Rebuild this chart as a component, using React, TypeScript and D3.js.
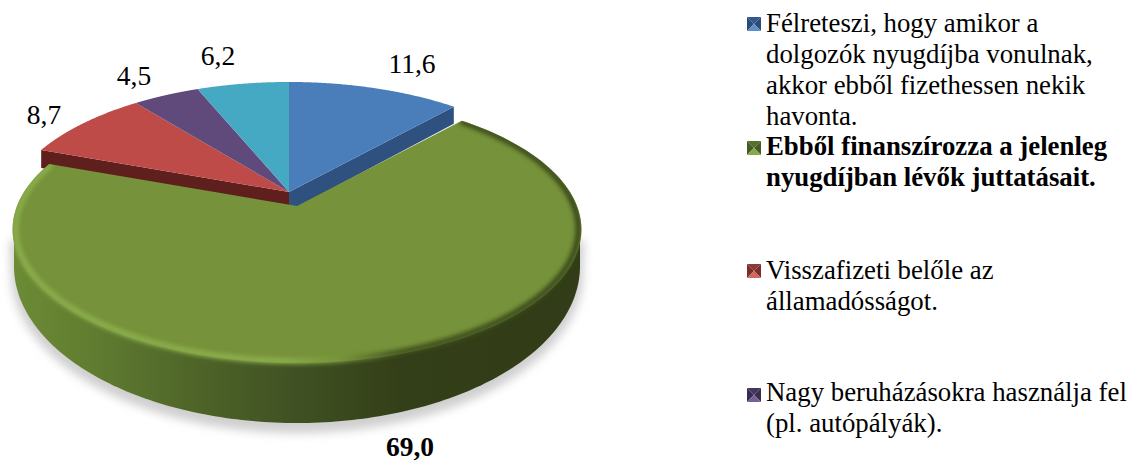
import React from "react";
import * as d3 from "d3";

const categories = ["Félreteszi", "Ebből finanszírozza", "Visszafizeti", "Nagy beruházásokra", "Egyéb"];
const values = [11.6, 69.0, 8.7, 4.5, 6.2];
const valueLabels = ["11,6", "69,0", "8,7", "4,5", "6,2"];
const topColors = ["#4a7ebb", "#76923a", "#be4b48", "#604a7b", "#46a9c4"];
const sideColors = ["#2f5180", "#4a5f22", "#5e1f1d", "#3a2c4c", "#2a6a7c"];
const legendLight = ["#5f8fc9", "#87a84c", "#cf6663", "#75609a"];
const legendMid = ["#33598c", "#55702a", "#8f3835", "#46365e"];
const legendDark = ["#2a4c78", "#475c24", "#7a2e2b", "#3a2c50"];
const legendLines = [
  ["Félreteszi, hogy amikor a", "dolgozók nyugdíjba vonulnak,", "akkor ebből fizethessen nekik", "havonta."],
  ["Ebből finanszírozza a jelenleg", "nyugdíjban lévők juttatásait."],
  ["Visszafizeti belőle az", "államadósságot."],
  ["Nagy beruházásokra használja fel", "(pl. autópályák)."],
];

const FONT = "'Liberation Serif', 'Times New Roman', serif";
const apex = { x: 289, y: 192 };
const greenOffset = { x: 8, y: 14 };
const R = 280, RY = 129.4, K = 0.176;
const labelPos = [[412, 73], [410, 456], [44, 124], [134, 85], [218, 65]];
const legendBaselines = [[32, 63, 94, 125], [155, 186], [279, 310], [401, 432]];
const markerTops = [17, 141, 264, 388];
const baseEllipse = { cx: 297, cy: 266, rx: 283, ry: 157 };

const project = (a: number, r = 1): [number, number] => {
  const x = r * Math.sin(a), y = -r * Math.cos(a), w = 1 - K * y;
  return [(R * x) / w, (RY * y) / w];
};
const arcs = d3.pie<number>().sort(null).value((d) => d)(values);
const samples = (a0: number, a1: number) => d3.range(0, 161).map((i) => a0 + ((a1 - a0) * i) / 160);
const line = d3.line<[number, number]>();
const at = (o: { x: number; y: number }, dy = 0) => ([x, y]: [number, number]): [number, number] => [o.x + x, o.y + y + dy];

const slicePath = (i: number, o: { x: number; y: number }) => {
  const { startAngle: a0, endAngle: a1 } = arcs[i];
  return line([[o.x, o.y], ...samples(a0, a1).map((a) => at(o)(project(a)))]) + "Z";
};
const blueSide = (angle: number, depth: number) =>
  line([
    [apex.x, apex.y],
    at(apex)(project(angle)),
    at(apex, depth)(project(angle)),
    [apex.x + greenOffset.x, apex.y + greenOffset.y + 1],
    [apex.x, apex.y + greenOffset.y],
  ]) + "Z";
const redSide = (angle: number, depth: number) =>
  line([
    [apex.x, apex.y],
    at(apex)(project(angle)),
    at(apex, depth)(project(angle)),
    [apex.x, apex.y + depth],
  ]) + "Z";
const basePoint = (t: number, grow = 0, dy = 0): [number, number] => [
  baseEllipse.cx + (baseEllipse.rx + grow) * Math.cos(t),
  baseEllipse.cy + dy + (baseEllipse.ry + grow) * Math.sin(t),
];
const baseHalf = samples(0, Math.PI).map((t) => basePoint(t));

export default function App() {
  const greenC = { x: apex.x + greenOffset.x, y: apex.y + greenOffset.y };
  const greenSide = line([[580, 225], ...baseHalf, [14, 225]]) + "Z";
  const shadow = line([[584, 240], ...samples(0, Math.PI).map((t) => basePoint(t, 3, 7)), [10, 240]]) + "Z";
  const rim = line(samples(arcs[1].startAngle, arcs[1].endAngle).map((a) => at(greenC)(project(a, 0.99))));
  return (
    <svg width={1135} height={461} style={{ position: "absolute", left: 0, top: 0, background: "#fff" }}>
      <defs>
        <filter id="blur" x="-10%" y="-20%" width="120%" height="140%"><feGaussianBlur stdDeviation="5" /></filter>
        <filter id="soft" x="-10%" y="-20%" width="120%" height="140%"><feGaussianBlur stdDeviation="2" /></filter>
        <linearGradient id="side" gradientUnits="userSpaceOnUse" x1="14" x2="580" y1="0" y2="0">
          <stop offset="0" stopColor="#6c8b35" />
          <stop offset="0.15" stopColor="#5f7b30" />
          <stop offset="0.33" stopColor="#4d6328" />
          <stop offset="0.5" stopColor="#3f5122" />
          <stop offset="0.68" stopColor="#333f18" />
          <stop offset="1" stopColor="#323c18" />
        </linearGradient>
        <linearGradient id="rim" gradientUnits="userSpaceOnUse" x1="12" x2="582" y1="0" y2="0">
          <stop offset="0" stopColor="#8bad4c" />
          <stop offset="0.48" stopColor="#8bad4c" />
          <stop offset="0.58" stopColor="#76923a" />
          <stop offset="0.68" stopColor="#42521f" />
          <stop offset="1" stopColor="#3a4a1c" />
        </linearGradient>
        <clipPath id="greenClip">
          <path d={slicePath(1, greenC)} />
          <path d={greenSide} />
        </clipPath>
      </defs>

      <path d={shadow} fill="#cfcfcf" filter="url(#blur)" />

      <path d={blueSide(arcs[0].endAngle, 17)} fill={sideColors[0]} />
      <path d={redSide(arcs[2].startAngle, 18)} fill={sideColors[2]} />
      {[0, 2, 3, 4].map((i) => (
        <path key={i} d={slicePath(i, apex)} fill={topColors[i]} />
      ))}

      <path d={greenSide} fill="url(#side)" />
      <path d={slicePath(1, greenC)} fill={topColors[1]} />
      <g clipPath="url(#greenClip)">
        <path d={rim || ""} fill="none" stroke="url(#rim)" strokeWidth={6} filter="url(#soft)" />
      </g>

      {valueLabels.map((t, i) => (
        <text key={i} x={labelPos[i][0]} y={labelPos[i][1]} textAnchor="middle" fontFamily={FONT} fontSize={27.5}
          fontWeight={i === 1 ? 700 : 400} fill="#000">{t}</text>
      ))}

      {legendLines.map((lines, i) => {
        const mx = 747, my = markerTops[i], s = 14, c = s / 2;
        const tri = (p: [number, number][]) => line(p) + "Z";
        return (
          <g key={i}>
            <path d={tri([[mx, my], [mx + s, my], [mx + c, my + c]])} fill={legendMid[i]} />
            <path d={tri([[mx, my], [mx, my + s], [mx + c, my + c]])} fill={legendDark[i]} />
            <path d={tri([[mx + s, my], [mx + s, my + s], [mx + c, my + c]])} fill={legendDark[i]} />
            <path d={tri([[mx, my + s], [mx + s, my + s], [mx + c, my + c]])} fill={legendLight[i]} />
            {lines.map((t, j) => (
              <text key={j} x={766} y={legendBaselines[i][j]} fontFamily={FONT} fontSize={26.8}
                fontWeight={i === 1 ? 700 : 400} fill="#000">{t}</text>
            ))}
          </g>
        );
      })}
    </svg>
  );
}
